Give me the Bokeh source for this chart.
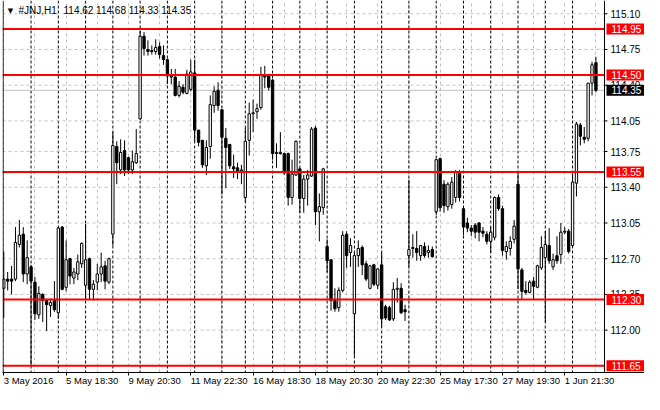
from bokeh.plotting import figure
from bokeh.models import ColumnDataSource, Range1d, FixedTicker, Span, Label
from bokeh.core.properties import value
from bokeh.embed import file_html
from bokeh.resources import INLINE

# JNJ H1, 3 May - 2 Jun 2016 (one candle per hour bar)
opens = [
    112.41, 112.50, 112.50, 112.50, 112.84, 112.94, 112.55,
    112.62, 112.47, 112.15, 112.35, 112.29, 112.24, 112.29,
    112.17, 113.01, 112.42, 112.70, 112.51, 112.55, 112.65,
    112.44, 112.70, 112.40, 112.47, 112.55, 112.63, 112.47,
    112.94, 113.80, 113.57, 113.76, 113.69, 113.57, 113.64,
    114.07, 114.88, 114.75, 114.74, 114.73, 114.78, 114.69,
    114.65, 114.50, 114.48, 114.30, 114.38, 114.32, 114.36,
    114.52, 113.96, 113.86, 113.61, 113.80, 114.20, 114.35,
    114.16, 113.88, 113.82, 113.60, 113.59, 113.56,
    113.30, 113.86, 114.12, 114.14, 114.18, 114.49, 114.49,
    114.45, 113.74, 113.74, 113.73, 113.73, 113.30, 113.52,
    113.58, 113.29, 113.48, 113.51, 113.98, 113.16, 113.20,
    112.82, 112.69, 112.29, 112.22, 112.39, 112.94, 112.76,
    112.16, 112.73, 112.81, 112.65, 112.41, 112.64, 112.44,
    112.64, 112.23, 112.22, 112.11, 112.40, 112.41, 112.20,
    112.73, 112.80, 112.80, 112.73, 112.82, 112.76, 112.79,
    113.16, 113.68, 113.43, 113.21, 113.23, 113.30, 113.55,
    113.19, 113.05, 113.00, 113.03, 113.05, 112.97, 112.94,
    112.87, 112.91, 113.30, 113.19, 112.77, 112.80, 112.89,
    113.43, 112.59, 112.39, 112.37, 112.48, 112.42, 112.61,
    112.71, 112.83, 112.62, 112.73, 112.74, 112.96, 112.97,
    112.83, 113.44, 114.01, 113.89, 113.88, 114.42, 114.62,
]
highs = [
    112.77, 112.57, 112.63, 113.01, 113.08, 113.01, 112.88,
    112.64, 112.52, 112.43, 112.36, 112.29, 112.31, 112.48,
    113.01, 113.02, 112.88, 112.71, 112.61, 112.74, 112.86,
    113.04, 112.71, 112.49, 112.65, 112.76, 112.68, 112.71,
    113.94, 113.85, 113.87, 113.86, 113.70, 113.76, 113.97,
    114.93, 114.92, 114.84, 114.79, 114.85, 114.82, 114.79,
    114.66, 114.56, 114.56, 114.44, 114.41, 114.55, 114.65,
    114.65, 113.96, 113.86, 113.86, 114.30, 114.39, 114.43,
    114.16, 113.98, 113.82, 113.72, 113.64, 113.62,
    113.98, 114.23, 114.26, 114.22, 114.58, 114.59, 114.49,
    114.46, 113.83, 113.94, 113.74, 113.74, 113.67, 113.86,
    113.59, 113.52, 113.57, 113.99, 114.00, 113.34, 113.59,
    112.89, 112.69, 112.41, 112.42, 112.97, 112.97, 112.90,
    112.76, 112.88, 112.83, 112.68, 112.64, 112.65, 112.60,
    112.76, 112.25, 112.24, 112.47, 112.51, 112.46, 112.25,
    113.47, 112.94, 112.97, 112.83, 112.86, 112.83, 112.82,
    113.68, 113.69, 113.47, 113.45, 113.50, 113.57, 113.57,
    113.19, 113.10, 113.03, 113.05, 113.06, 113.01, 112.97,
    113.01, 113.31, 113.33, 113.22, 112.87, 112.92, 113.08,
    113.55, 112.61, 112.48, 112.49, 112.52, 112.64, 112.92,
    112.97, 113.00, 112.75, 112.92, 113.05, 113.01, 112.99,
    113.55, 114.04, 114.03, 113.99, 114.42, 114.63, 114.68,
]
lows = [
    112.12, 112.39, 112.35, 112.48, 112.81, 112.47, 112.45,
    111.65, 112.10, 112.11, 112.08, 111.99, 112.13, 112.18,
    112.11, 112.39, 112.38, 112.45, 112.45, 112.49, 112.61,
    112.30, 112.30, 112.29, 112.39, 112.47, 112.40, 112.45,
    112.83, 113.43, 113.53, 113.51, 113.53, 113.53, 113.63,
    114.06, 114.69, 114.69, 114.70, 114.70, 114.66, 114.60,
    114.41, 114.41, 114.29, 114.28, 114.31, 114.31, 114.34,
    113.85, 113.80, 113.59, 113.52, 113.68, 114.13, 114.15,
    113.33, 113.39, 113.58, 113.49, 113.48, 113.43,
    113.26, 113.71, 113.94, 114.07, 114.16, 114.37, 114.35,
    113.67, 113.59, 113.72, 113.52, 113.22, 113.23, 113.51,
    113.15, 113.15, 113.22, 113.50, 113.03, 112.87, 113.13,
    112.57, 112.19, 112.18, 112.18, 112.37, 112.61, 112.62,
    111.75, 112.62, 112.54, 112.48, 112.40, 112.43, 112.40,
    112.03, 112.10, 112.09, 112.09, 112.27, 112.16, 112.09,
    112.62, 112.71, 112.68, 112.68, 112.71, 112.71, 112.71,
    113.13, 113.16, 113.15, 113.17, 113.19, 113.25, 113.26,
    112.93, 112.96, 112.92, 112.90, 112.87, 112.91, 112.84,
    112.76, 112.88, 113.17, 112.73, 112.69, 112.73, 112.85,
    112.40, 112.30, 112.35, 112.36, 112.30, 112.41, 112.59,
    112.08, 112.65, 112.59, 112.65, 112.65, 112.94, 112.75,
    112.82, 113.31, 113.81, 113.83, 113.85, 114.30, 114.33,
]
closes = [
    112.50, 112.48, 112.48, 112.86, 112.93, 112.55, 112.71,
    112.48, 112.16, 112.36, 112.29, 112.25, 112.27, 112.20,
    113.00, 112.40, 112.69, 112.53, 112.57, 112.67, 112.85,
    112.69, 112.40, 112.45, 112.55, 112.62, 112.48, 112.70,
    113.81, 113.64, 113.74, 113.57, 113.57, 113.65, 113.73,
    114.88, 114.76, 114.73, 114.73, 114.77, 114.70, 114.65,
    114.49, 114.48, 114.30, 114.39, 114.33, 114.51, 114.53,
    113.96, 113.84, 113.62, 113.79, 114.21, 114.34, 114.20,
    113.89, 113.79, 113.61, 113.58, 113.56, 113.57,
    113.85, 114.12, 114.13, 114.17, 114.50, 114.48, 114.38,
    113.73, 113.73, 113.73, 113.54, 113.30, 113.53, 113.85,
    113.29, 113.48, 113.52, 113.97, 113.16, 113.21, 113.58,
    112.68, 112.29, 112.21, 112.39, 112.93, 112.73, 112.83,
    112.73, 112.80, 112.64, 112.50, 112.63, 112.45, 112.60,
    112.11, 112.12, 112.10, 112.40, 112.41, 112.17, 112.18,
    112.79, 112.81, 112.76, 112.83, 112.73, 112.78, 112.72,
    113.67, 113.20, 113.22, 113.43, 113.45, 113.55, 113.30,
    113.01, 113.00, 112.97, 112.96, 112.96, 112.95, 112.87,
    112.96, 113.30, 113.19, 112.78, 112.82, 112.87, 113.02,
    112.60, 112.38, 112.37, 112.47, 112.43, 112.63, 112.81,
    112.84, 112.68, 112.69, 112.68, 112.96, 112.97, 112.77,
    113.45, 114.02, 113.90, 113.87, 114.42, 114.60, 114.35,
]

# bars per trading day (13 May has one bar less)
bars_per_day = [7, 7, 7, 7, 7, 7, 7, 7, 6, 7, 7, 7, 7, 7, 7, 7, 7, 7, 7, 7, 7, 7]
time_labels = ["3 May 2016", "5 May 18:30", "9 May 20:30", "11 May 22:30", "16 May 18:30",
               "18 May 20:30", "20 May 22:30", "25 May 17:30", "27 May 19:30", "1 Jun 21:30"]
price_ticks = [115.10, 114.75, 114.40, 114.05, 113.75, 113.40, 113.05, 112.70, 112.35, 112.00]
levels = [114.95, 114.50, 113.55, 112.30, 111.65]
bid = 114.35
symbol = "#JNJ,H1"

n = len(opens)
x = list(range(n))
src = ColumnDataSource(data=dict(
    x=x, h=highs, l=lows,
    top=[max(o, c) for o, c in zip(opens, closes)],
    bottom=[min(o, c) for o, c in zip(opens, closes)],
    fill=["white" if c >= o else "black" for o, c in zip(opens, closes)]))

W, H = 644, 394
LEFT, BOTTOM = 2, 19
x0 = -0.33
x_axis = 154.2                      # bar coordinate of the price scale line
ppb = 602 / (x_axis - x0)           # pixels per bar
x1 = x0 + (W - LEFT) / ppb
y0, y1 = 111.585, 115.23
FONT = "Liberation Sans"

p = figure(width=W, height=H, output_backend="svg", toolbar_location=None,
           x_range=Range1d(x0, x1), y_range=Range1d(y0, y1), y_axis_location=None,
           min_border_left=LEFT, min_border_top=0, min_border_right=0, min_border_bottom=BOTTOM)
p.outline_line_color = None
p.background_fill_color = "white"
p.border_fill_color = "white"

# grids
for g in p.ygrid:
    g.visible = False
p.xgrid.ticker = FixedTicker(ticks=list(range(0, n, 8)))
p.xgrid.grid_line_color = "#C0C0C0"
p.xgrid.grid_line_dash = "3 3"
p.segment(x0=[x0] * len(price_ticks), x1=[x_axis] * len(price_ticks), y0=price_ticks, y1=price_ticks,
          line_color="#C0C0C0", line_dash="3 3", line_width=1)

# day separators
pos = 0
for cnt in bars_per_day[:-1]:
    pos += cnt
    p.add_layout(Span(location=pos, dimension="height", line_color="black",
                      line_dash="3 2", line_width=1, level="underlay"))

# bid line
p.segment(x0=[x0], x1=[x_axis], y0=[bid], y1=[bid], line_color="#C0C0C0", line_width=1)

# candles
p.segment(x0="x", y0="l", x1="x", y1="h", source=src, line_color="black", line_width=1)
p.vbar(x="x", width=0.6, top="top", bottom="bottom", source=src,
       fill_color="fill", line_color="black", line_width=1)

# support / resistance lines
p.segment(x0=[x0] * len(levels), x1=[x_axis] * len(levels), y0=levels, y1=levels,
          line_color="#FF0000", line_width=2)

# chart border and price scale
p.add_layout(Span(location=x0 + 0.6 / ppb, dimension="height", line_color="black", line_width=1))
p.add_layout(Span(location=x_axis, dimension="height", line_color="black", line_width=1))
p.segment(x0=[x_axis] * len(price_ticks), x1=[x_axis + 3 / ppb] * len(price_ticks),
          y0=price_ticks, y1=price_ticks, line_color="black", line_width=1)
p.text(x=[x_axis] * len(price_ticks), y=price_ticks, text=[f"{t:.2f}" for t in price_ticks],
       x_offset=6, text_font=value(FONT), text_font_size="10px", text_color="black",
       text_baseline="middle", text_align="left")

# price boxes
box_w = (W - LEFT - 602 - 2) / ppb
box_x = x_axis + 2 / ppb + box_w / 2
p.rect(x=[box_x] * len(levels), y=levels, width=box_w, height=11, height_units="screen",
       fill_color="#FF0000", line_color=None)
p.text(x=[x_axis] * len(levels), y=levels, text=[f"{lv:.2f}" for lv in levels],
       x_offset=7, text_font=value(FONT), text_font_size="10px", text_color="white",
       text_baseline="middle", text_align="left")
p.rect(x=[box_x], y=[bid], width=box_w, height=11, height_units="screen",
       fill_color="black", line_color=None)
p.text(x=[x_axis], y=[bid], text=[f"{bid:.2f}"], x_offset=7, text_font=value(FONT),
       text_font_size="10px", text_color="white", text_baseline="middle", text_align="left")

# time axis (tiny negative angle -> labels start at their tick)
xa = p.xaxis[0]
xa.ticker = FixedTicker(ticks=list(range(0, n, 16)))
xa.major_label_overrides = {b: t for b, t in zip(range(0, n, 16), time_labels)}
xa.major_label_orientation = -1e-6
xa.axis_line_color = "black"
xa.major_tick_line_color = "black"
xa.major_tick_out = 3
xa.major_tick_in = 0
xa.minor_tick_out = 0
xa.minor_tick_in = 0
xa.major_label_text_font = FONT
xa.major_label_text_font_size = "9.5px"
xa.major_label_text_color = "black"
xa.major_label_standoff = 5

# header
last = n - 1
p.add_layout(Label(x=x0, y=y1, x_offset=8, y_offset=-10, text="\u25bc", text_color="black",
                   text_font="DejaVu Sans", text_font_size="7px", text_baseline="middle",
                   text_align="center"))
p.add_layout(Label(x=x0, y=y1, x_offset=16, y_offset=-10, text=symbol, text_color="black",
                   text_font=FONT, text_font_size="10px", text_baseline="middle"))
ohlc = f"{opens[last]:.2f} {highs[last]:.2f} {lows[last]:.2f} {closes[last]:.2f}"
p.add_layout(Label(x=x0, y=y1, x_offset=61, y_offset=-10, text=ohlc, text_color="black",
                   text_font=FONT, text_font_size="10px", text_baseline="middle"))

open("out.html", "w").write(file_html(p, INLINE))
